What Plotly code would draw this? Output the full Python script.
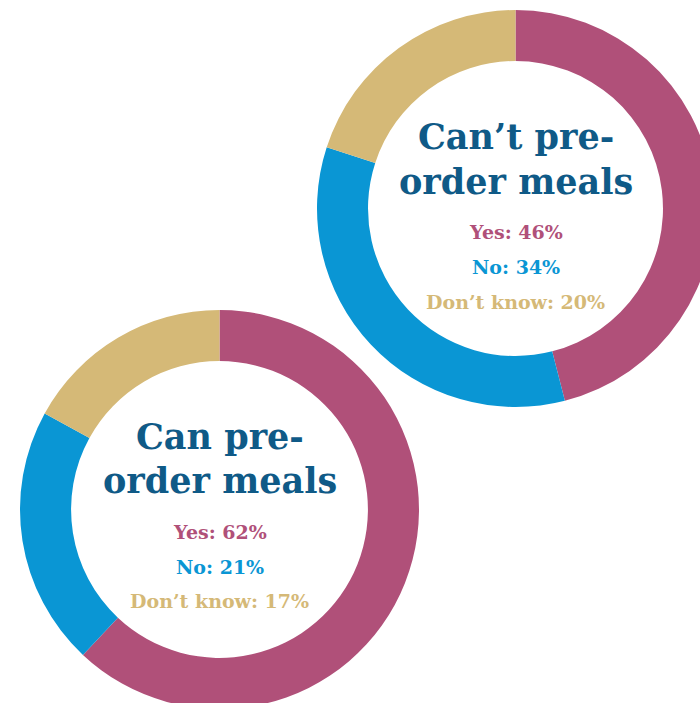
import plotly.graph_objects as go

answers = ["Yes", "No", "Don’t know"]
cant_values = [46, 34, 20]
can_values = [62, 21, 17]
colors = ["#B05079", "#0A96D4", "#D5B977"]
title_color = "#0F5A87"

W, H = 720, 715

def dom(cx, cy, r):
    return dict(x=[(cx - r) / W, (cx + r) / W], y=[1 - (cy + r) / H, 1 - (cy - r) / H])

fig = go.Figure()
fig.add_trace(go.Pie(labels=answers, values=cant_values, hole=0.743, sort=False,
                     direction="clockwise", rotation=0, textinfo="none",
                     marker=dict(colors=colors, line=dict(width=0)),
                     domain=dom(515.5, 208.5, 198.5), showlegend=False, hoverinfo="label+percent"))
fig.add_trace(go.Pie(labels=answers, values=can_values, hole=0.744, sort=False,
                     direction="clockwise", rotation=0, textinfo="none",
                     marker=dict(colors=colors, line=dict(width=0)),
                     domain=dom(219.5, 509.5, 199.5), showlegend=False, hoverinfo="label+percent"))

def add_center(cx, title_lines, tys, vals, stat_ys):
    for line, y in zip(title_lines, tys):
        fig.add_annotation(x=cx / W, y=1 - y / H, xref="paper", yref="paper", text=f"<b>{line}</b>",
                           showarrow=False, xanchor="center", yanchor="middle",
                           font=dict(family="DejaVu Serif", size=35, color=title_color))
    for lab, v, c, y in zip(answers, vals, colors, stat_ys):
        fig.add_annotation(x=cx / W, y=1 - y / H, xref="paper", yref="paper", text=f"<b>{lab}: {v}%</b>",
                           showarrow=False, xanchor="center", yanchor="middle",
                           font=dict(family="DejaVu Serif", size=19, color=c))

add_center(515.5, ["Can’t pre-", "order meals"], [136, 181], cant_values, [232, 267, 302])
add_center(219.5, ["Can pre-", "order meals"], [436, 480], can_values, [532, 567, 601])

fig.update_layout(width=W, height=H, margin=dict(l=0, r=0, t=0, b=0),
                  paper_bgcolor="white", plot_bgcolor="white")
fig.write_html("out.html", config={"displayModeBar": False},
               post_script="document.body.style.margin='0';document.body.style.overflow='hidden';")
